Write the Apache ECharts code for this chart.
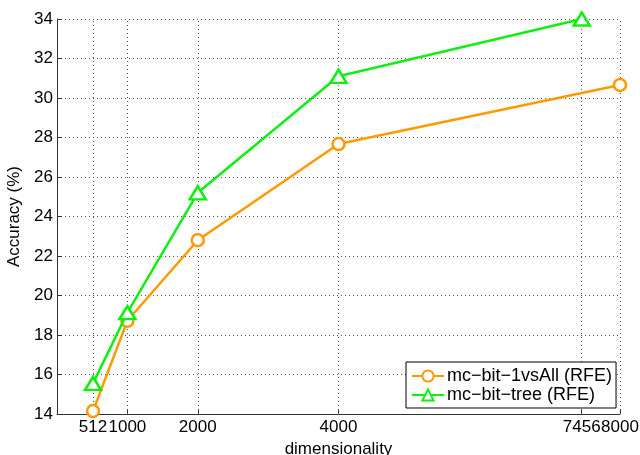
<!doctype html>
<html>
<head>
<meta charset="utf-8" />
<title>Accuracy vs dimensionality</title>
<script src="https://cdn.jsdelivr.net/npm/echarts@6/dist/echarts.min.js"></script>
<style>
  html, body { margin: 0; padding: 0; background: #fff; }
  #main { width: 640px; height: 455px; }
</style>
</head>
<body>
<div id="main"></div>
<script>
// tick positions on the x axis
var xTicks = [512, 1000, 2000, 4000, 7456, 8000];

// series values
var oneVsAllX = [512, 1000, 2000, 4000, 8000];
var oneVsAllY = [14.15, 18.72, 22.8, 27.67, 30.66];
var treeX = [512, 1000, 2000, 4000, 7456];
var treeY = [15.55, 19.13, 25.2, 31.1, 34.0];

var names = ['mc\u2212bit\u22121vsAll (RFE)', 'mc\u2212bit\u2212tree (RFE)'];

function pairs(xs, ys) {
  var out = [];
  for (var i = 0; i < xs.length; i++) out.push([xs[i], ys[i]]);
  return out;
}

var font = 'Liberation Sans, Arial, sans-serif';
var myChart = echarts.init(document.getElementById('main'));

option = {
  animation: false,
  grid: { left: 57, right: 20, top: 19, bottom: 41, outerBoundsMode: 'none', containLabel: false },
  xAxis: {
    type: 'value',
    min: 0,
    max: 8000,
    name: 'dimensionality',
    nameLocation: 'middle',
    nameGap: 24,
    nameTextStyle: { color: '#000', fontSize: 17, fontFamily: font },
    axisLine: { lineStyle: { color: '#333', width: 1 } },
    axisTick: { inside: true, length: 5, customValues: xTicks, lineStyle: { color: '#333' } },
    axisLabel: {
      customValues: xTicks, color: '#000', fontSize: 17, fontFamily: font, margin: 5, hideOverlap: false,
      formatter: function (v) { return String(v); }
    },
    splitLine: { show: false }
  },
  yAxis: {
    type: 'value',
    min: 14,
    max: 34,
    interval: 2,
    name: 'Accuracy (%)',
    nameLocation: 'middle',
    nameGap: 33,
    nameTextStyle: { color: '#000', fontSize: 17, fontFamily: font },
    axisLine: { show: true, lineStyle: { color: '#333', width: 1 } },
    axisTick: { show: true, inside: true, length: 5, lineStyle: { color: '#333' } },
    axisLabel: { color: '#000', fontSize: 17, fontFamily: font, margin: 4 },
    splitLine: { show: true, lineStyle: { color: '#555', type: [1, 3], width: 1 } }
  },
  legend: {
    data: names,
    orient: 'vertical',
    left: 406,
    top: 362,
    backgroundColor: '#fff',
    borderColor: '#000',
    borderWidth: 1,
    borderRadius: 0,
    padding: [5, 4, 4, 5],
    itemGap: 1,
    itemWidth: 32,
    itemHeight: 14,
    textStyle: { color: '#000', fontSize: 18, fontFamily: font, padding: [0, 0, 0, -2] }
  },
  series: [
    {
      name: names[0],
      type: 'line',
      data: pairs(oneVsAllX, oneVsAllY),
      symbol: 'circle',
      symbolSize: 12,
      z: 3,
      lineStyle: { color: '#ff9900', width: 2.5 },
      itemStyle: { color: '#fff', borderColor: '#ff9900', borderWidth: 2.5 },
      markLine: {
        silent: true,
        symbol: 'none',
        label: { show: false },
        lineStyle: { color: '#555', type: [1, 3], width: 1 },
        data: xTicks.map(function (v) { return { xAxis: v }; }),
        z: 1
      }
    },
    {
      name: names[1],
      type: 'line',
      data: pairs(treeX, treeY),
      symbol: 'triangle',
      symbolSize: [16, 13],
      z: 4,
      lineStyle: { color: '#11ee11', width: 2.5 },
      itemStyle: { color: '#fff', borderColor: '#11ee11', borderWidth: 2.5 }
    }
  ]
};

myChart.setOption(option);
</script>
</body>
</html>
